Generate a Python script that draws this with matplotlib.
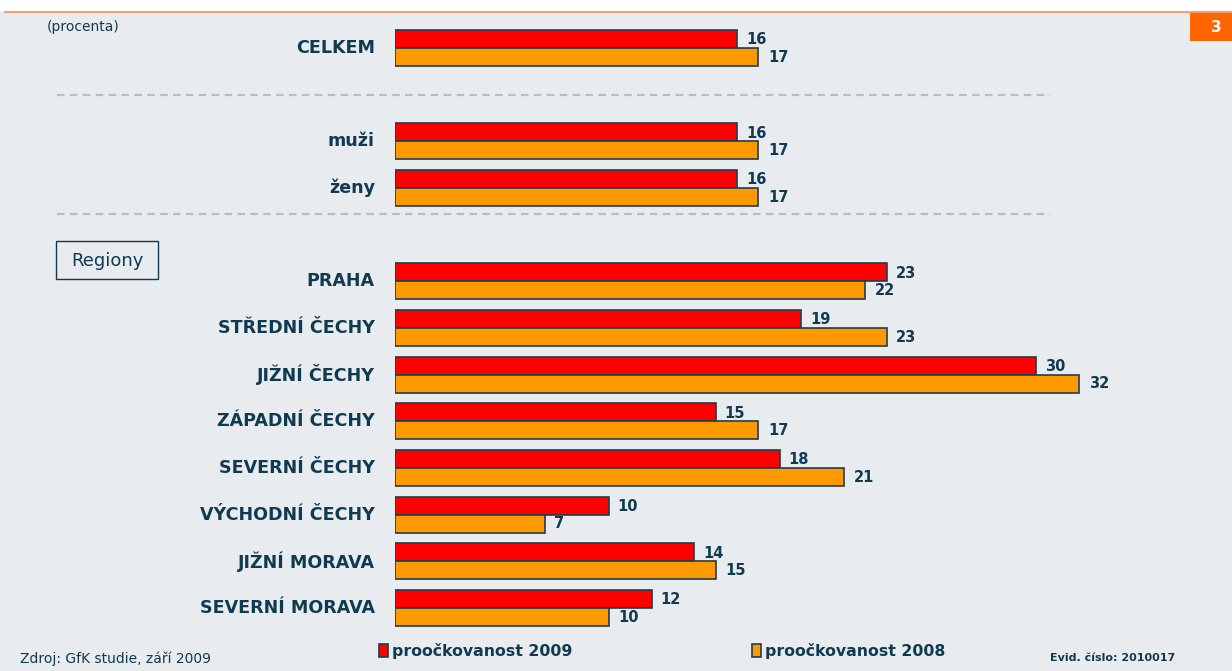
import matplotlib
matplotlib.use("Agg")
import matplotlib.pyplot as plt
from matplotlib.patches import Rectangle
from matplotlib.lines import Line2D

# data
categories = ["CELKEM", "muži", "ženy", "PRAHA", "STŘEDNÍ ČECHY", "JIŽNÍ ČECHY",
              "ZÁPADNÍ ČECHY", "SEVERNÍ ČECHY", "VÝCHODNÍ ČECHY", "JIŽNÍ MORAVA",
              "SEVERNÍ MORAVA"]
values_2009 = [16, 16, 16, 23, 19, 30, 15, 18, 10, 14, 12]
values_2008 = [17, 17, 17, 22, 23, 32, 17, 21, 7, 15, 10]
series_names = ["proočkovanost 2009", "proočkovanost 2008"]
# row slots (gaps after CELKEM and after ženy)
slots = [0, 2, 3, 5, 6, 7, 8, 9, 10, 11, 12]

W, H = 1232, 671
NAVY = "#0f3a52"
BG = "#e9ecee"
RED = "#ff0000"
ORANGE = "#ff9900"

fig = plt.figure(figsize=(W / 100, H / 100), dpi=100)
fig.patch.set_facecolor(BG)

# white strip + orange line at the top
fig.add_artist(Rectangle((0, 1 - 11 / H), 1, 11 / H, transform=fig.transFigure,
                         facecolor="white", edgecolor="none"))
fig.add_artist(Line2D([5 / W, 1], [1 - 12 / H, 1 - 12 / H], transform=fig.transFigure,
                      color="#f4a070", lw=1.5))
fig.add_artist(Rectangle((1190 / W, 1 - 41 / H), 42 / W, 29 / H, transform=fig.transFigure,
                         facecolor="#ff6600", edgecolor="none"))
fig.text(1216 / W, 1 - 27 / H, "3", color="white", fontsize=11, fontweight="bold",
         ha="center", va="center")

# bar axes: x in percent, y in row slots
px_per_unit = 21.375
row_px = 46.67
x0 = 395
ax = fig.add_axes([x0 / W, 0, (W - x0) / W, 1])
ax.set_xlim(0, (W - x0) / px_per_unit)
ax.set_ylim((H - 48) / row_px, -48 / row_px)
ax.axis("off")

bh = 18 / row_px
b1 = ax.barh([s - bh / 2 for s in slots], values_2009, height=bh, color=RED,
             edgecolor="#1e3d4f", linewidth=1.2, label=series_names[0])
b2 = ax.barh([s + bh / 2 for s in slots], values_2008, height=bh, color=ORANGE,
             edgecolor="#1e3d4f", linewidth=1.2, label=series_names[1])

for s, cat, v1, v2 in zip(slots, categories, values_2009, values_2008):
    ax.annotate(str(v1), xy=(v1, s - bh / 2), xytext=(6.5, -0.5), textcoords="offset points",
                ha="left", va="center", fontsize=10.5, fontweight="bold", color=NAVY)
    ax.annotate(str(v2), xy=(v2, s + bh / 2), xytext=(7, 0), textcoords="offset points",
                ha="left", va="center", fontsize=10.5, fontweight="bold", color=NAVY)
    ax.annotate(cat, xy=(0, s), xytext=(-14.5, 0), textcoords="offset points",
                ha="right", va="center", fontsize=12.6, fontweight="bold", color=NAVY,
                annotation_clip=False)

# dashed separators
for ysep in [1.0, (214 - 48) / row_px]:
    ax.plot([(57 - x0) / px_per_unit, (1050 - x0) / px_per_unit], [ysep, ysep],
            color="#bcbcbc", lw=1.6, dashes=(3.4, 2.4), clip_on=False)

fig.text(47 / W, 1 - 27 / H, "(procenta)", fontsize=10, color=NAVY, va="center")

# Regiony box
fig.add_artist(Rectangle((56 / W, 1 - 279 / H), 102 / W, 38 / H, transform=fig.transFigure,
                         facecolor="none", edgecolor=NAVY, lw=1))
fig.text(107 / W, 1 - 261 / H, "Regiony", fontsize=13, color=NAVY, ha="center", va="center")

# footer
fig.text(20 / W, 1 - 659 / H, "Zdroj: GfK studie, září 2009", fontsize=10, color=NAVY,
         va="center")
fig.text(1050 / W, 1 - 658 / H, "Evid. číslo: 2010017", fontsize=8, color=NAVY,
         fontweight="bold", va="center")
leg = fig.legend(handles=[b1, b2], loc="center left", bbox_to_anchor=(379 / W, 1 - 651 / H),
                 ncol=2, frameon=False, borderpad=0, borderaxespad=0, handlelength=0.55,
                 handleheight=0.85, handletextpad=0.25, columnspacing=11.5,
                 prop={"size": 11.3, "weight": "bold"})
for t in leg.get_texts():
    t.set_color(NAVY)

fig.savefig("out.png", dpi=100, facecolor=BG)
